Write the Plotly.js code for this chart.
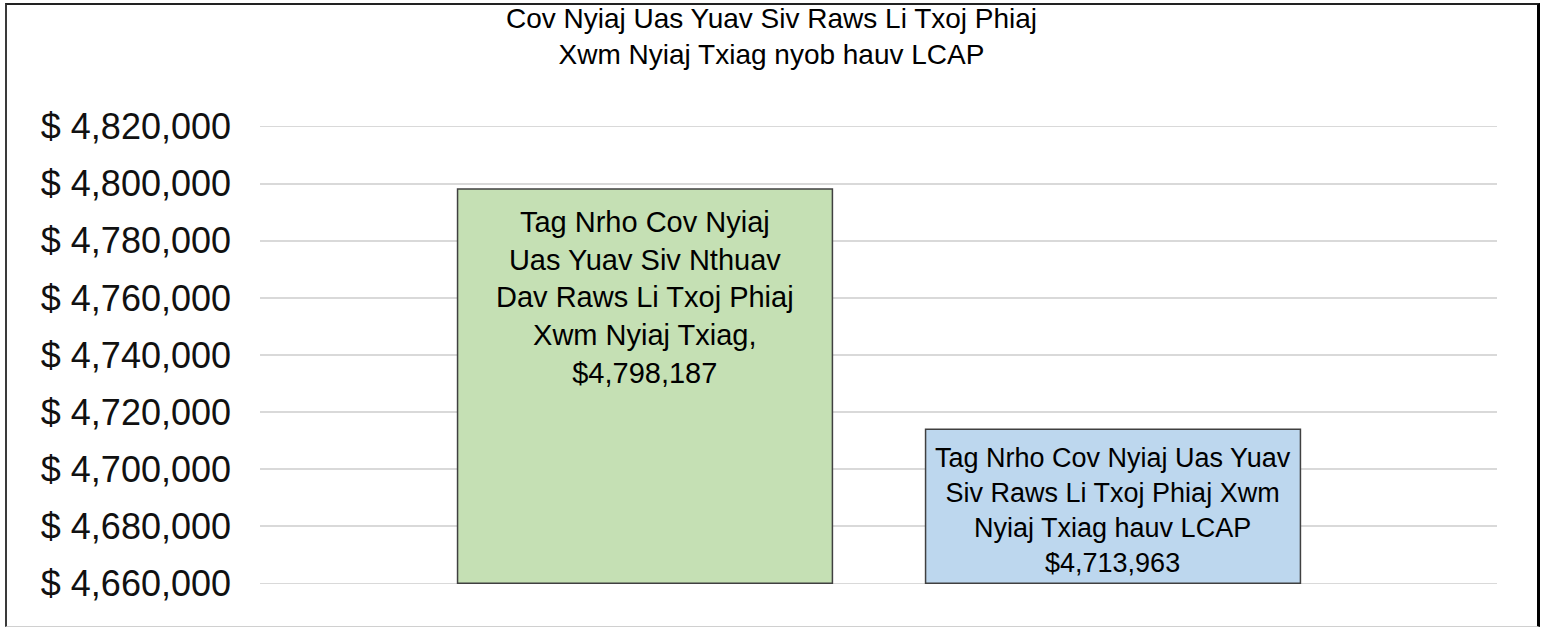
<!DOCTYPE html>
<html>
<head>
<meta charset="utf-8">
<script src="https://cdn.plot.ly/plotly-3.0.1.min.js"></script>
<style>
  html, body { margin: 0; padding: 0; background: #fff; }
  #wrap { position: relative; width: 1543px; height: 629px; overflow: hidden; }
  #chart { position: absolute; left: 0; top: 0; width: 1543px; height: 629px; }
  #frame { position: absolute; left: 5px; top: 3px; width: 1530px; height: 621px;
           border-left: 2px solid #3a3a3a; border-top: 2px solid #222; border-right: 3px solid #000;
           border-bottom: 1px solid #d0d0d0; pointer-events: none; }
</style>
</head>
<body>
<div id="wrap">
  <div id="chart"></div>
  <div id="frame"></div>
</div>
<script>
// ---- data ----
const categories = [
  "Tag Nrho Cov Nyiaj Uas Yuav Siv Nthuav Dav Raws Li Txoj Phiaj Xwm Nyiaj Txiag",
  "Tag Nrho Cov Nyiaj Uas Yuav Siv Raws Li Txoj Phiaj Xwm Nyiaj Txiag hauv LCAP"
];
const labelLines = [
  ["Tag Nrho Cov Nyiaj", "Uas Yuav Siv Nthuav", "Dav Raws Li Txoj Phiaj", "Xwm Nyiaj Txiag,"],
  ["Tag Nrho Cov Nyiaj Uas Yuav", "Siv Raws Li Txoj Phiaj Xwm", "Nyiaj Txiag hauv LCAP"]
];
const values = [4798187, 4713963];
const axisBase = 4660000;
const tickValues = [4660000, 4680000, 4700000, 4720000, 4740000, 4760000, 4780000, 4800000, 4820000];
const titleLines = ["Cov Nyiaj Uas Yuav Siv Raws Li Txoj Phiaj", "Xwm Nyiaj Txiag nyob hauv LCAP"];
const barColors = ["#c5e0b4", "#bdd7ee"];

// ---- chart ----
const xs = categories.map((c, i) => i);
const fmt = v => "$" + v.toLocaleString("en-US");
const labelY = [4760000, 4685600];
const labelSize = [29, 27];

const trace = {
  type: "bar",
  x: xs,
  y: values.map(v => v - axisBase),
  base: values.map(() => axisBase),
  width: 0.801,
  marker: { color: barColors, line: { color: "#404040", width: 1.5 } },
  hovertext: categories,
  hoverinfo: "text",
  showlegend: false
};

const annotations = values.map((v, i) => ({
  x: xs[i], y: labelY[i], xref: "x", yref: "y",
  text: labelLines[i].concat([fmt(v)]).join("<br>"),
  showarrow: false, align: "center", xanchor: "center", yanchor: "middle",
  font: { family: "Liberation Sans, Arial, sans-serif", size: labelSize[i], color: "#000" }
}));

const layout = {
  width: 1543, height: 629,
  margin: { l: 260, r: 46, t: 121, b: 40 },
  paper_bgcolor: "#fff", plot_bgcolor: "#fff",
  title: {
    text: titleLines.join("<br>"),
    x: 0.5, xref: "container", xanchor: "center",
    y: 0.956, yref: "container", yanchor: "top",
    font: { family: "Liberation Sans, Arial, sans-serif", size: 28, color: "#000" }
  },
  xaxis: {
    range: [-0.8226, 1.8205], showgrid: false, zeroline: false,
    showticklabels: false, ticks: "", showline: false, fixedrange: true
  },
  yaxis: {
    range: [4658000, 4822000],
    tickmode: "array", tickvals: tickValues,
    ticktext: tickValues.map(v => "$ " + v.toLocaleString("en-US")),
    showgrid: true, gridcolor: "#d9d9d9", gridwidth: 1.5,
    zeroline: false, showline: false, ticks: "",
    ticklabelstandoff: 28,
    tickfont: { family: "Liberation Sans, Arial, sans-serif", size: 36, color: "#111" }
  },
  annotations: annotations,
  bargap: 0
};

Plotly.newPlot("chart", [trace], layout, { displayModeBar: false, staticPlot: true });
</script>
</body>
</html>
